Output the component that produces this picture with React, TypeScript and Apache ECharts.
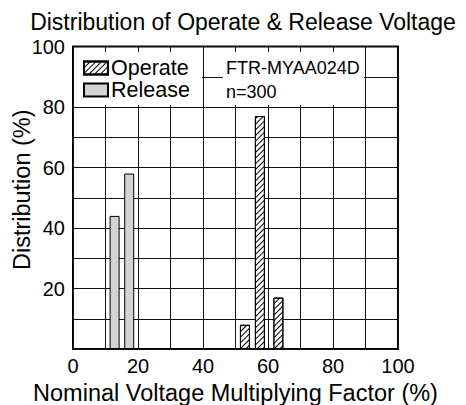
import React, { useEffect, useRef } from "react";
import * as echarts from "echarts";

const releaseX = [12.8, 17.3];
const releaseY = [44, 58];
const operateX = [52.9, 57.5, 63.2];
const operateY = [8, 77, 17];
const xTickLabels = [0, 20, 40, 60, 80, 100];
const yTickLabels = [20, 40, 60, 80, 100];
const noteLines = ["FTR-MYAA024D", "n=300"];

const FONT = "'Liberation Sans', Arial, Helvetica, sans-serif";

export default function App() {
  const ref = useRef<HTMLDivElement>(null);
  useEffect(() => {
    if (!ref.current) return;
    const chart = echarts.init(ref.current, null, { renderer: "svg" });
    const hatch = {
      symbol: "rect",
      symbolSize: 1,
      color: "#000",
      backgroundColor: "#fff",
      dashArrayX: [1, 0],
      dashArrayY: [1, 3],
      rotation: -Math.PI / 4,
    };
    chart.setOption({
      animation: false,
      backgroundColor: "#fff",
      textStyle: { fontFamily: FONT },
      title: {
        text: "Distribution of Operate & Release Voltage",
        left: 243,
        top: 10,
        padding: 0,
        textAlign: "center",
        textStyle: { fontFamily: FONT, fontSize: 23, fontWeight: "normal", color: "#000" },
      },
      grid: {
        left: 73,
        top: 46.5,
        width: 325,
        height: 302.5,
        show: true,
        borderColor: "#000",
        borderWidth: 2,
        backgroundColor: "transparent",
        containLabel: false,
        outerBoundsMode: "none",
      },
      legend: {
        orient: "vertical",
        left: 83,
        top: 57,
        icon: "rect",
        itemWidth: 24,
        itemHeight: 13,
        itemGap: 0,
        padding: 0,
        textStyle: { fontFamily: FONT, fontSize: 21.5, lineHeight: 21, color: "#000", padding: [0, 0, 0, -2] },
        data: ["Operate", "Release"],
      },
      xAxis: {
        type: "value",
        min: 0,
        max: 100,
        interval: 10,
        name: "Nominal Voltage Multiplying Factor (%)",
        nameLocation: "middle",
        nameGap: 32,
        nameMoveOverlap: false,
        nameTextStyle: { fontFamily: FONT, fontSize: 23.5, color: "#000" },
        axisLine: { show: false },
        axisTick: { show: false },
        axisLabel: {
          fontFamily: FONT,
          fontSize: 20,
          color: "#000",
          margin: 7,
          formatter: (v: number) => (xTickLabels.includes(v) ? String(v) : ""),
        },
        splitLine: { show: true, lineStyle: { color: "#111", width: 1 } },
      },
      yAxis: {
        type: "value",
        min: 0,
        max: 100,
        interval: 10,
        name: "Distribution (%)",
        nameLocation: "middle",
        nameGap: 39,
        nameMoveOverlap: false,
        nameTextStyle: { fontFamily: FONT, fontSize: 23.5, color: "#000", padding: [0, 0, 0, 16] },
        axisLine: { show: false },
        axisTick: { show: false },
        axisLabel: {
          fontFamily: FONT,
          fontSize: 20,
          color: "#000",
          margin: 8,
          padding: [4, 0, 0, 0],
          formatter: (v: number) => (yTickLabels.includes(v) ? String(v) : ""),
        },
        splitLine: { show: true, lineStyle: { color: "#111", width: 1 } },
      },
      graphic: [
        { type: "rect", z: 1, shape: { x: 74, y: 52, width: 128, height: 53 }, style: { fill: "#fff" } },
        { type: "rect", z: 1, shape: { x: 223, y: 52, width: 141, height: 53 }, style: { fill: "#fff" } },
        {
          type: "text",
          z: 5,
          x: 226,
          y: 68,
          style: { text: noteLines[0], fontFamily: FONT, fontSize: 18, fill: "#000", verticalAlign: "middle" },
        },
        {
          type: "text",
          z: 5,
          x: 226,
          y: 92,
          style: { text: noteLines[1], fontFamily: FONT, fontSize: 18, fill: "#000", verticalAlign: "middle" },
        },
      ],
      series: [
        {
          name: "Operate",
          type: "bar",
          barWidth: 10,
          barGap: "-100%",
          itemStyle: { color: "#fff", borderColor: "#000", borderWidth: 1, decal: hatch },
          data: operateX.map((x, i) => [x, operateY[i]]),
        },
        {
          name: "Release",
          type: "bar",
          barWidth: 10,
          barGap: "-100%",
          itemStyle: { color: "#d3d3d3", borderColor: "#000", borderWidth: 1 },
          data: releaseX.map((x, i) => [x, releaseY[i]]),
        },
      ],
    });
    return () => chart.dispose();
  }, []);
  return (
    <div
      ref={ref}
      style={{ position: "fixed", left: 0, top: 0, width: 466, height: 405 }}
    />
  );
}
